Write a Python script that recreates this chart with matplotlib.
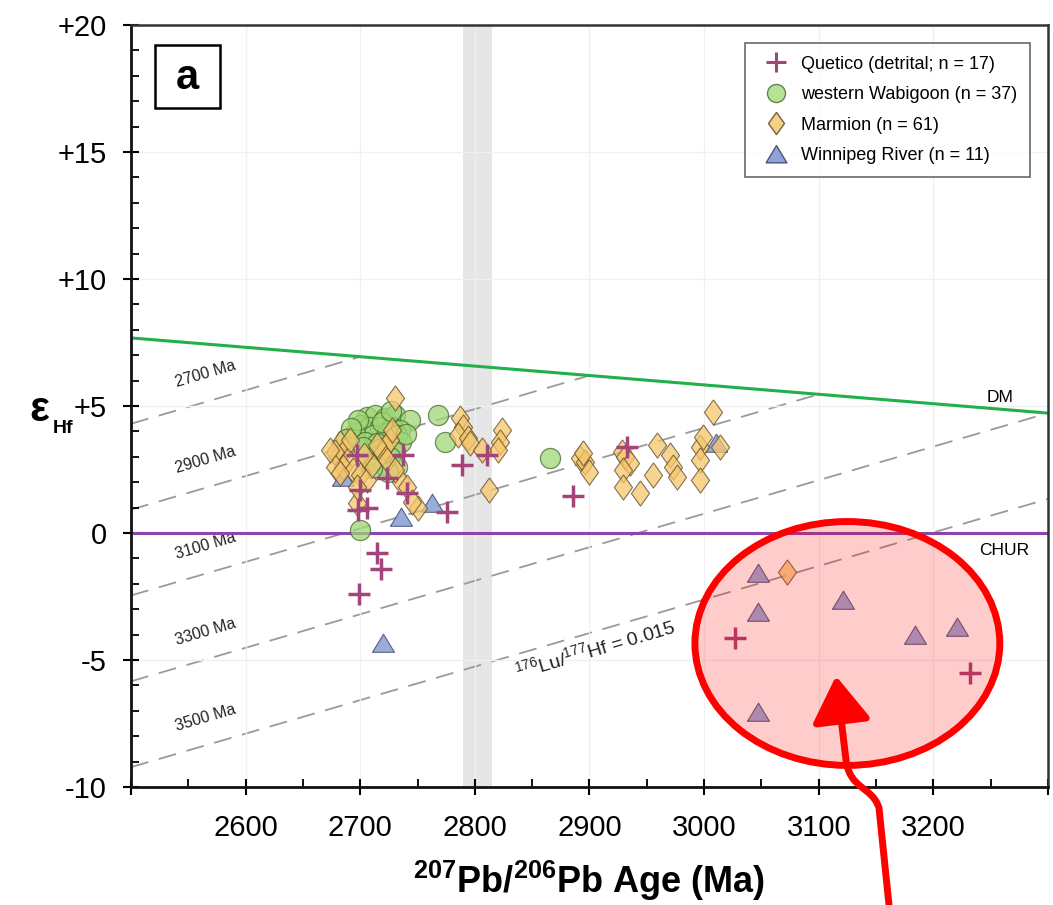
import numpy as np
import matplotlib
matplotlib.use('Agg')
import matplotlib.pyplot as plt
from matplotlib.patches import Ellipse, FancyArrowPatch, Rectangle
from matplotlib.path import Path
from matplotlib.lines import Line2D

plt.rcParams['font.family'] = ['Liberation Sans', 'DejaVu Sans']
plt.rcParams['mathtext.fontset'] = 'custom'
plt.rcParams['mathtext.rm'] = 'Liberation Sans'
plt.rcParams['mathtext.bf'] = 'Liberation Sans:bold'

# --- dados ---
quetico_age = [2697, 2737, 2723, 2741, 2700, 2706, 2776, 2789, 2811, 2886,
               2933, 2715, 2718, 2699, 3027, 3232, 2698]
quetico_eps = [3.07, 3.07, 2.17, 1.57, 1.69, 0.98, 0.83, 2.68, 3.07, 1.46,
               3.39, -0.79, -1.42, -2.40, -4.13, -5.51, 0.90]

wabigoon_age = [2706, 2713, 2722, 2730, 2743, 2700, 2708, 2717, 2728, 2735,
                2711, 2723, 2732, 2736, 2695, 2704, 2715, 2730, 2726, 2713,
                2720, 2732, 2707, 2724, 2768, 2774, 2698, 2702, 2719, 2692,
                2700, 2866, 2688, 2716, 2740, 2710, 2727]
wabigoon_eps = [4.57, 4.65, 4.53, 4.65, 4.45, 4.25, 4.17, 4.17, 4.17, 4.06,
                3.86, 3.94, 3.86, 3.58, 3.94, 3.58, 3.54, 3.19, 3.00, 2.87,
                2.68, 2.60, 3.07, 2.40, 4.65, 3.58, 4.45, 3.39, 4.37, 4.13,
                0.12, 2.95, 3.70, 3.30, 3.90, 2.55, 4.80]

marmion_age = [2892, 2896, 2900, 2894, 2928, 2931, 2935, 2929, 2929, 2944,
               2959, 2955, 2970, 2973, 2976, 2996, 2996, 2996, 3008, 3014,
               2999, 2787, 2790, 2785, 2794, 2796, 2824, 2822, 2820, 2806,
               2812, 3072, 2730, 2682, 2687, 2681, 2689, 2685, 2694, 2678,
               2700, 2706, 2722, 2726, 2719, 2723, 2736, 2741, 2750, 2697,
               2678, 2691, 2697, 2710, 2715, 2730, 2745, 2682, 2674, 2703,
               2728]
marmion_eps = [2.95, 2.80, 2.40, 3.15, 3.20, 3.00, 2.75, 2.48, 1.80, 1.57,
               3.46, 2.28, 3.07, 2.60, 2.20, 3.39, 2.87, 2.09, 4.76, 3.39,
               3.78, 4.53, 4.17, 3.86, 3.74, 3.54, 4.06, 3.58, 3.27, 3.27,
               1.69, -1.54, 5.31, 3.54, 3.27, 3.00, 2.87, 2.60, 2.48, 3.19,
               2.28, 2.09, 3.39, 3.66, 3.15, 2.87, 2.00, 1.81, 0.98, 1.18,
               2.60, 3.66, 1.81, 2.68, 3.46, 2.48, 1.22, 2.36, 3.27, 3.07,
               4.06]

winnipeg_age = [2685, 2736, 2763, 2720, 3010, 3047, 3047, 3121, 3184, 3221, 3047]
winnipeg_eps = [2.20, 0.63, 1.18, -4.33, 3.54, -1.57, -3.10, -2.64, -4.00, -3.70, -7.05]

# manto empobrecido (DM) e linhas de evolução com 176Lu/177Hf = 0.015
dm_age = [2500, 3300]
dm_eps = [7.68, 4.72]
model_ages = [2700, 2900, 3100, 3300, 3500]
model_labels = ['2700 Ma', '2900 Ma', '3100 Ma', '3300 Ma', '3500 Ma']
lu_hf_slope = 0.0132  # eps por Ma

yticks = [-10, -5, 0, 5, 10, 15, 20]
ytick_labels = ['-10', '-5', '0', '+5', '+10', '+15', '+20']
xticks = [2500, 2600, 2700, 2800, 2900, 3000, 3100, 3200, 3300]
xtick_labels = ['', '2600', '2700', '2800', '2900', '3000', '3100', '3200', '']


def dm_at(t):
    # reta do DM (extrapolada além de 3300 Ma)
    return dm_eps[0] + (dm_eps[1] - dm_eps[0]) * (t - dm_age[0]) / (dm_age[1] - dm_age[0])


fig = plt.figure(figsize=(10.53, 9.05), dpi=100)
ax = fig.add_axes([0.1244, 0.1304, 0.8708, 0.842])
ax.set_xlim(2500, 3300)
ax.set_ylim(-10, 20)

# faixa cinza e grade
ax.axvspan(2790, 2815, color='#e6e6e6', zorder=0, lw=0)
ax.grid(True, color='#f0f0f0', lw=1, zorder=0.5)

# linhas de evolução (tracejadas)
for T, lab in zip(model_ages, model_labels):
    t_end = min(T, 3300)
    xs = np.array([2500, t_end])
    ys = dm_at(T) - lu_hf_slope * (T - xs)
    ax.plot(xs, ys, color='#9a9a9a', lw=1.3, dashes=(10, 6), zorder=1)
    yl = dm_at(T) - lu_hf_slope * (T - 2565) + 1.1
    ax.text(2565, yl, lab, fontsize=11.5, rotation=16.5, ha='center', va='center',
            color='#222222', zorder=2)

ax.text(2905, -4.6, r'$^{176}$Lu/$^{177}$Hf = 0.015', fontsize=14, rotation=16.5,
        ha='center', va='center', color='#222222', zorder=2)

# DM e CHUR
ax.plot(dm_age, dm_eps, color='#22b04b', lw=2.2, zorder=2)
ax.axhline(0, color='#8e44ad', lw=2.2, zorder=2)
ax.text(3258, 5.35, 'DM', fontsize=12.5, ha='center', va='center')
ax.text(3262, -0.7, 'CHUR', fontsize=12.5, ha='center', va='center')

# marcadores
diamond = [(0, 1), (0.72, 0), (0, -1), (-0.72, 0), (0, 1)]
triangle = [(-1, -0.8), (1, -0.8), (0, 0.85), (-1, -0.8)]

ax.scatter(winnipeg_age, winnipeg_eps, marker=triangle, s=250, c='#8ea3d8',
           edgecolors='#4b5675', linewidths=0.8, alpha=0.9, zorder=3)
ax.scatter(wabigoon_age, wabigoon_eps, marker='o', s=210, c='#9fd676',
           edgecolors='#486a30', linewidths=0.9, alpha=0.75, zorder=4)
ax.scatter(marmion_age, marmion_eps, marker=diamond, s=330, c='#f6c66c',
           edgecolors='#5c4a2a', linewidths=0.8, alpha=0.75, zorder=5)
ax.scatter(quetico_age, quetico_eps, marker='+', s=270, c='#a3457b',
           linewidths=2.5, zorder=6)

# legenda
handles = [
    Line2D([], [], ls='', marker='+', ms=14, mew=2.2, color='#a3457b'),
    Line2D([], [], ls='', marker='o', ms=13, mfc='#a9dc85', mec='#51703a', alpha=0.85),
    Line2D([], [], ls='', marker=diamond, ms=16, mfc='#f6c873', mec='#5c4a2a', alpha=0.85),
    Line2D([], [], ls='', marker=triangle, ms=15, mfc='#8ea3d8', mec='#4b5675'),
]
labels = ['Quetico (detrital; n = 17)', 'western Wabigoon (n = 37)',
          'Marmion (n = 61)', 'Winnipeg River (n = 11)']
leg = ax.legend(handles, labels, loc='upper right', fontsize=13, frameon=True,
                fancybox=False, edgecolor='#444444', labelspacing=0.75,
                borderaxespad=1.0, handletextpad=0.4, borderpad=0.7)
leg.get_frame().set_linewidth(1.2)
leg.set_zorder(10)

# rótulo "a"
ax.add_patch(Rectangle((0.0262, 0.891), 0.0708, 0.083, transform=ax.transAxes,
                       fc='white', ec='black', lw=1.8, zorder=10))
ax.text(0.0616, 0.931, 'a', transform=ax.transAxes, fontsize=30, fontweight='bold',
        ha='center', va='center', zorder=11)

# eixos
ax.set_xticks(xticks)
ax.set_xticklabels(xtick_labels)
ax.set_yticks(yticks)
ax.set_yticklabels(ytick_labels)
ax.set_xticks(np.arange(2550, 3300, 100), minor=True)
ax.set_yticks([v for v in range(-10, 21) if v % 5 != 0], minor=True)
ax.tick_params(which='major', direction='inout', length=11, width=1.5, labelsize=21)
ax.tick_params(which='minor', direction='in', length=6, width=1.3)
ax.tick_params(axis='x', which='major', pad=14)
ax.tick_params(axis='y', which='major', pad=12)
for side in ['left', 'bottom']:
    ax.spines[side].set_linewidth(2)
    ax.spines[side].set_color('#111111')
for side in ['top', 'right']:
    ax.spines[side].set_linewidth(1.8)
    ax.spines[side].set_color('#333333')

ax.set_xlabel(r'$^{\mathbf{207}}$Pb/$^{\mathbf{206}}$Pb Age (Ma)', fontsize=26,
              fontweight='bold', labelpad=12)
fig.text(0.037, 0.547, 'ε', fontsize=30, fontweight='bold', ha='center', va='center')
fig.text(0.060, 0.527, 'Hf', fontsize=14, fontweight='bold', ha='center', va='center')

# destaque vermelho (elipse e seta)
ell = Ellipse((3125, -4.35), 266, 9.6, facecolor=(1, 0, 0, 0.2), edgecolor='red',
              lw=5, zorder=8)
ax.add_patch(ell)

W, H = 1053.0, 905.0
pts = [(889, 905), (879, 808), (872, 786), (850, 790), (846, 760), (836, 676)]
verts = [(x / W, 1 - y / H) for x, y in pts]
codes = [Path.MOVETO, Path.LINETO, Path.CURVE4, Path.CURVE4, Path.CURVE4, Path.LINETO]
arrow = FancyArrowPatch(path=Path(verts, codes), transform=fig.transFigure,
                        arrowstyle='-|>,head_length=0.7,head_width=0.45',
                        mutation_scale=40, color='red', lw=5, zorder=20)
fig.patches.append(arrow)

fig.savefig('out.png', dpi=100)
